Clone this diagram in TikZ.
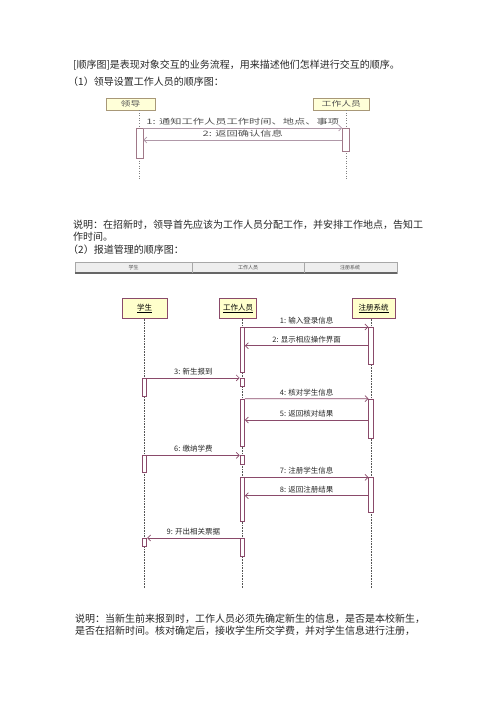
\documentclass[tikz,border=0pt]{standalone}
\usepackage{fontspec}
\newfontfamily\cjk{Noto Sans CJK SC}
\usetikzlibrary{arrows.meta}
\definecolor{boxfill}{HTML}{FFFFCC}
\definecolor{umlline}{HTML}{8A4A6A}
\definecolor{lifegray}{HTML}{555555}
\definecolor{boxfillA}{HTML}{FFFFD8}
\definecolor{boxlineA}{HTML}{A89878}
\definecolor{actlineA}{HTML}{A07888}
\definecolor{msglineA}{HTML}{B098A8}
\definecolor{textA}{HTML}{505050}
\definecolor{barfill}{HTML}{EEEEEE}
\definecolor{barline}{HTML}{A8A8A8}
\begin{document}
\begin{tikzpicture}[x=1pt,y=-1pt,
  para/.style={anchor=base west, inner sep=0, font=\cjk\fontsize{10}{12}\selectfont, text=black!85},
  objA/.style={draw=boxlineA, fill=boxfillA, inner sep=0, line width=0.6pt, text=textA, font=\cjk\fontsize{7}{8}\selectfont},
  actA/.style={draw=actlineA, fill=white, inner sep=0, minimum width=7pt, line width=0.6pt},
  lifeA/.style={dotted, draw=gray, line width=0.5pt},
  msgA/.style={draw=msglineA, line width=0.6pt, -{Straight Barb[length=3pt,width=6pt]}},
  labA/.style={inner sep=0, text=textA, font=\cjk\fontsize{7.5}{8}\selectfont},
  obj/.style={draw=umlline, fill=boxfill, inner sep=0, line width=0.7pt, font=\cjk\fontsize{7.5}{9}\selectfont},
  act/.style={draw=umlline, fill=white, inner sep=0, minimum width=4.5pt, line width=0.7pt},
  life/.style={densely dotted, draw=lifegray, line width=0.6pt},
  msg/.style={draw=umlline, line width=0.7pt, -{Straight Barb[length=3pt,width=6pt]}},
  mlab/.style={inner sep=0, font=\cjk\fontsize{7.5}{9}\selectfont, text=black!85},
  bartext/.style={inner sep=0, font=\cjk\fontsize{5}{6}\selectfont, text=black!70}
]
\useasboundingbox (0,0) rectangle (500,706);

% ---------- text ----------
\node[para] (t1) at (73,69) {[顺序图]是表现对象交互的业务流程，用来描述他们怎样进行交互的顺序。};
\node[para] (t2) at (68,86) {（1）领导设置工作人员的顺序图：};
\node[para] (t3) at (73,228) {说明：在招新时，领导首先应该为工作人员分配工作，并安排工作地点，告知工};
\node[para] (t4) at (73,240) {作时间。};
\node[para] (t5) at (68,253) {（2）报道管理的顺序图：};
\node[para] (t6) at (75,622) {说明：当新生前来报到时，工作人员必须先确定新生的信息，是否是本校新生，};
\node[para] (t7) at (75,634) {是否在招新时间。核对确定后，接收学生所交学费，并对学生信息进行注册，};

% ---------- diagram 1 ----------
\node[objA, minimum width=49pt, minimum height=12pt] (ld) at (130.5,104.2) {\scalebox{1.4}[1]{领导}};
\node[objA, minimum width=56pt, minimum height=12pt] (gz) at (341.3,104.2) {\scalebox{1.4}[1]{工作人员}};
\coordinate (ldend) at (139.3,179);
\coordinate (gzend) at (346,179);
\draw[lifeA] (ld.south -| ldend) -- (ldend);
\draw[lifeA] (gz.south -| gzend) -- (gzend);
\node[actA, minimum height=30pt] (la) at (139.6,143.3) {};
\node[actA, minimum height=23.4pt] (ra) at (345.8,140) {};
\draw[msgA] (la.north east) -- (ra.north west)
  node[labA, midway, above=3pt] {\scalebox{1.5}[1]{1: 通知工作人员工作时间、地点、事项}};
\draw[msgA] (ra.west |- 0,140) -- (la.east |- 0,140)
  node[labA, midway, above=3pt] {\scalebox{1.5}[1]{2: 返回确认信息}};

% ---------- header bar ----------
\node[draw=barline, fill=barfill, minimum width=322pt, minimum height=11pt, inner sep=0, line width=0.5pt] (bar) at (236,267.5) {};
\draw[black!60, line width=1.6pt] (bar.south west) -- (bar.south east);
\draw[barline, line width=0.6pt] (192,262) -- (192,273);
\draw[barline, line width=0.6pt] (304,262) -- (304,273);
\node[bartext] (h1) at (133.5,267.5) {学生};
\node[bartext] (h2) at (248,267.5) {工作人员};
\node[bartext] (h3) at (350,267.5) {注册系统};

% ---------- diagram 2 objects ----------
\node[obj, minimum width=45pt, minimum height=20pt] (stu) at (144.5,308.3) {\underline{学生}};
\node[obj, minimum width=37.5pt, minimum height=20pt] (stf) at (238,308.3) {\underline{工作人员}};
\node[obj, minimum width=42.7pt, minimum height=20pt] (reg) at (373.7,308.3) {\underline{注册系统}};
\coordinate (stuend) at (144.5,588);
\coordinate (stfend) at (242.3,588);
\coordinate (regend) at (371,588);
\draw[life] (stu.south -| stuend) -- (stuend);
\draw[life] (stf.south -| stfend) -- (stfend);
\draw[life] (reg.south -| regend) -- (regend);

% activations
\node[act, minimum height=45pt] (sA) at (242.3,349.8) {};
\node[act, minimum height=36.7pt] (rA) at (371,345.65) {};
\node[act, minimum height=8.4pt] (sB) at (242.3,382.5) {};
\node[act, minimum height=17.7pt] (tA) at (144.5,387.15) {};
\node[act, minimum height=47.7pt] (sC) at (242.3,422.85) {};
\node[act, minimum height=39.3pt] (rB) at (371,418.65) {};
\node[act, minimum height=17pt] (tB) at (144.5,464.2) {};
\node[act, minimum height=8.6pt] (sD) at (242.3,460) {};
\node[act, minimum height=44pt] (sE) at (242.3,499.7) {};
\node[act, minimum height=34.6pt] (rC) at (371,495) {};
\node[act, minimum height=8.4pt] (tC) at (144.5,542.5) {};
\node[act, minimum height=18.4pt] (sF) at (242.3,547.5) {};

% messages
\draw[msg] (sA.north east) -- (rA.north west) node[mlab, midway, above=2.5pt] {1: 输入登录信息};
\draw[msg] (rA.west |- 0,345.7) -- (sA.east |- 0,345.7) node[mlab, midway, above=2.5pt] {2: 显示相应操作界面};
\draw[msg] (tA.north east) -- (sB.north west) node[mlab, midway, above=2.5pt] {3: 新生报到};
\draw[msg] (sC.north east) -- (rB.north west) node[mlab, midway, above=2.5pt] {4: 核对学生信息};
\draw[msg] (rB.west |- 0,420) -- (sC.east |- 0,420) node[mlab, midway, above=2.5pt] {5: 返回核对结果};
\draw[msg] (tB.north east) -- (sD.north west) node[mlab, midway, above=2.5pt] {6: 缴纳学费};
\draw[msg] (sE.north east) -- (rC.north west) node[mlab, midway, above=2.5pt] {7: 注册学生信息};
\draw[msg] (rC.west |- 0,495.7) -- (sE.east |- 0,495.7) node[mlab, midway, above=2.5pt] {8: 返回注册结果};
\draw[msg] (sF.north west) -- (tC.north east) node[mlab, midway, above=2.5pt] {9: 开出相关票据};
\end{tikzpicture}
\end{document}
